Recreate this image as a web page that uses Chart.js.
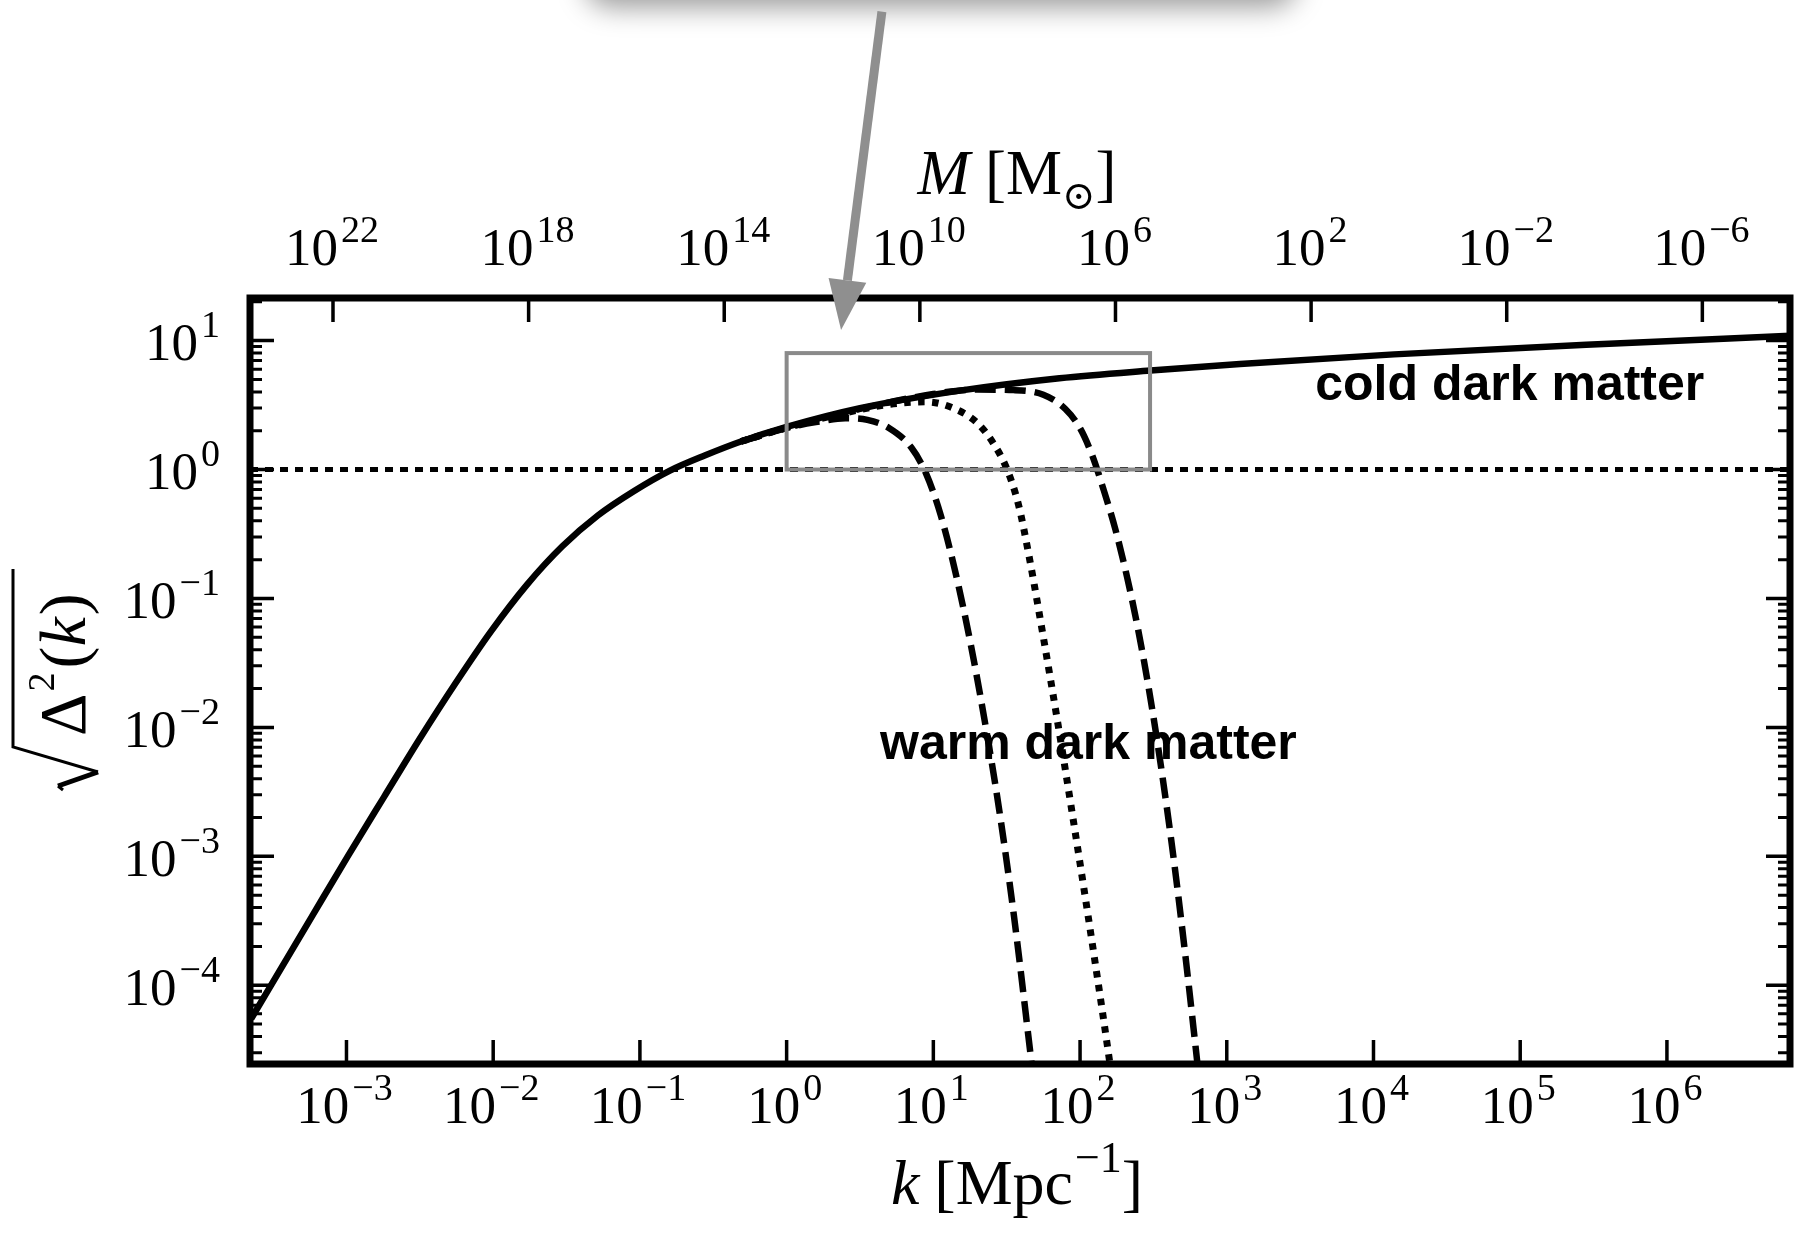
<!DOCTYPE html>
<html>
<head>
<meta charset="utf-8">
<script src="https://cdn.jsdelivr.net/npm/chart.js@4.4.1/dist/chart.umd.min.js"></script>
<style>
  html, body { margin: 0; padding: 0; background: #fff; }
  #wrap { width: 1807px; height: 1233px; position: relative; }
</style>
</head>
<body>
<div id="wrap"><canvas id="spectrumChart"></canvas></div>
<script>
// sqrt(Delta^2(k)) against wavenumber k [Mpc^-1]
const cdmK = [2.24e-4, 5.86e-4, 1.02e-3, 1.80e-3, 3.15e-3, 5.52e-3, 9.66e-3, 1.69e-2, 2.96e-2, 5.19e-2,
              9.08e-2, 0.159, 0.279, 0.488, 1.0, 3.16, 15.1, 72.4, 302, 1230, 13800, 282000, 7.08e6];
const cdmDelta = [5.50e-5, 3.47e-4, 1.00e-3, 2.88e-3, 8.13e-3, 2.19e-2, 5.56e-2, 0.127, 0.254, 0.442,
                  0.679, 0.977, 1.29, 1.65, 2.14, 2.99, 4.09, 5.11, 5.86, 6.58, 7.82, 9.29, 10.9];

// warm dark matter cut-offs (lightest, middle, heaviest)
const wdmAK = [0.488, 1.0, 1.58, 2.51, 3.55, 5.01, 7.08, 8.91, 11.2, 14.1, 17.8, 22.4, 28.2, 35.5, 46.8];
const wdmADelta = [1.65, 2.10, 2.33, 2.50, 2.43, 2.09, 1.48, 0.933, 0.447, 0.162, 4.68e-2, 1.12e-2, 2.24e-3, 3.39e-4, 2.45e-5];

const wdmBK = [0.488, 1.0, 2.51, 5.01, 8.91, 14.1, 20.0, 25.1, 31.6, 38.0, 44.7, 56.2, 70.8, 89.1, 112, 141, 160];
const wdmBDelta = [1.65, 2.11, 2.75, 3.20, 3.35, 2.95, 2.29, 1.66, 1.02, 0.537, 0.219, 5.01e-2, 1.05e-2, 2.04e-3, 3.80e-4, 6.61e-5, 2.45e-5];

const wdmCK = [0.488, 1.0, 3.16, 10.0, 20.0, 35.2, 56.2, 79.4, 100, 120, 145, 174, 209, 251, 302, 363, 437, 525, 631];
const wdmCDelta = [1.65, 2.11, 2.95, 3.85, 4.17, 4.13, 3.80, 2.95, 2.09, 1.32, 0.692, 0.344, 0.147, 5.44e-2, 1.67e-2, 4.29e-3, 9.12e-4, 1.61e-4, 2.47e-5];

// sqrt(Delta^2) = 1 reference level
const unityK = [2.2e-4, 6.9e6];
const unityDelta = [1, 1];

const kRange = [2.2e-4, 6.9e6];
const deltaRange = [2.45e-5, 21.4];
const massAtUnitK = 5.3e12; // M = massAtUnitK * k^-3

const kTicks = [1e-3, 1e-2, 1e-1, 1e0, 1e1, 1e2, 1e3, 1e4, 1e5, 1e6];
const deltaTicks = [1e-4, 1e-3, 1e-2, 1e-1, 1e0, 1e1];
const massTicks = [1e22, 1e18, 1e14, 1e10, 1e6, 1e2, 1e-2, 1e-6];

// highlighted region and pointer
const zoomBoxK = [1, 300];
const zoomBoxDelta = [1, 8];
const arrowK = [4.46, 2.35];
const arrowDelta = [3560, 12.1];

const labelText = ["cold dark matter", "warm dark matter"];
const labelK = [84900, 114];
const labelDelta = [3.45, 5.66e-3];

const SERIF = '"Liberation Serif", "DejaVu Serif", serif';
const SANS = '"Liberation Sans", Arial, sans-serif';

function points(ks, ds) {
    return ks.map((k, i) => ({x: k, y: ds[i]}));
}

// "10" with a raised exponent
function drawPower(ctx, value, x, y, align) {
    const exp = Math.round(Math.log10(value));
    const sup = exp < 0 ? "\u2212" + (-exp) : String(exp);
    ctx.font = "53px " + SERIF;
    const wb = ctx.measureText("10").width;
    ctx.font = "38px " + SERIF;
    const we = ctx.measureText(sup).width;
    const gap = 3;
    const total = wb + gap + we;
    const x0 = align === "right" ? x - total : x - total / 2;
    ctx.textAlign = "left";
    ctx.textBaseline = "alphabetic";
    ctx.font = "53px " + SERIF;
    ctx.fillText("10", x0, y);
    ctx.font = "38px " + SERIF;
    ctx.fillText(sup, x0 + wb + gap, y - 23);
}

// a run of text pieces, centred on cx
function drawPieces(ctx, pieces, cx, y) {
    let total = 0;
    pieces.forEach(p => {
        ctx.font = p.font;
        p.w = ctx.measureText(p.t).width + (p.pad || 0);
        total += p.w;
    });
    let x = cx - total / 2;
    ctx.textAlign = "left";
    ctx.textBaseline = "alphabetic";
    pieces.forEach(p => {
        ctx.font = p.font;
        ctx.fillText(p.t, x, y + (p.dy || 0));
        x += p.w;
    });
}

const decorations = {
    id: "decorations",
    beforeDraw(chart) {
        const ctx = chart.ctx;
        ctx.save();
        ctx.fillStyle = "#fff";
        ctx.fillRect(0, 0, chart.width, chart.height);
        // card edge peeking in at the top
        ctx.shadowColor = "rgba(0,0,0,0.40)";
        ctx.shadowBlur = 28;
        ctx.shadowOffsetY = 7;
        ctx.beginPath();
        ctx.roundRect(585, -140, 712, 140, 26);
        ctx.fill();
        ctx.restore();
    },
    afterDatasetsDraw(chart) {
        const ctx = chart.ctx;
        const {x, y, x2} = chart.scales;
        const area = chart.chartArea;
        ctx.save();

        // grey box around the cut-off region
        const bx0 = x.getPixelForValue(zoomBoxK[0]);
        const bx1 = x.getPixelForValue(zoomBoxK[1]);
        const by0 = y.getPixelForValue(zoomBoxDelta[1]);
        const by1 = y.getPixelForValue(zoomBoxDelta[0]);
        ctx.strokeStyle = "#8a8a8a";
        ctx.lineWidth = 4;
        ctx.strokeRect(bx0, by0, bx1 - bx0, by1 - by0);

        // in-plot labels
        ctx.fillStyle = "#000";
        ctx.font = "bold 50px " + SANS;
        ctx.textAlign = "center";
        ctx.textBaseline = "alphabetic";
        labelText.forEach((t, i) => {
            ctx.fillText(t, x.getPixelForValue(labelK[i]), y.getPixelForValue(labelDelta[i]));
        });

        // ticks, all pointing inwards
        ctx.strokeStyle = "#000";
        ctx.lineCap = "butt";
        const major = 24, minor = 12;
        ctx.lineWidth = 3.5;
        ctx.beginPath();
        kTicks.forEach(v => {
            const px = x.getPixelForValue(v);
            ctx.moveTo(px, area.bottom);
            ctx.lineTo(px, area.bottom - major);
        });
        massTicks.forEach(v => {
            const px = x2.getPixelForValue(v);
            ctx.moveTo(px, area.top);
            ctx.lineTo(px, area.top + major);
        });
        deltaTicks.forEach(v => {
            const py = y.getPixelForValue(v);
            ctx.moveTo(area.left, py);
            ctx.lineTo(area.left + major, py);
            ctx.moveTo(area.right, py);
            ctx.lineTo(area.right - major, py);
        });
        ctx.stroke();
        ctx.lineWidth = 3;
        ctx.beginPath();
        for (let d = -5; d <= 1; d++) {
            for (let m = 2; m <= 9; m++) {
                const v = m * Math.pow(10, d);
                if (v <= deltaRange[0] || v >= deltaRange[1]) continue;
                const py = y.getPixelForValue(v);
                ctx.moveTo(area.left, py);
                ctx.lineTo(area.left + minor, py);
                ctx.moveTo(area.right, py);
                ctx.lineTo(area.right - minor, py);
            }
        }
        ctx.stroke();

        // frame
        ctx.lineWidth = 7;
        ctx.strokeRect(area.left, area.top, area.right - area.left, area.bottom - area.top);

        // tick labels
        ctx.fillStyle = "#000";
        deltaTicks.forEach(v => drawPower(ctx, v, area.left - 30, y.getPixelForValue(v) + 19.5, "right"));
        kTicks.forEach(v => drawPower(ctx, v, x.getPixelForValue(v) - 2, area.bottom + 59, "center"));
        massTicks.forEach(v => drawPower(ctx, v, x2.getPixelForValue(v) - 1, area.top - 33, "center"));

        // axis titles
        const cx = (area.left + area.right) / 2 - 3;
        drawPieces(ctx, [
            {t: "k", font: "italic 64px " + SERIF, pad: 15},
            {t: "[", font: "64px " + SERIF},
            {t: "Mpc", font: "64px " + SERIF, pad: 2},
            {t: "\u22121", font: "44px " + SERIF, dy: -32},
            {t: "]", font: "64px " + SERIF}
        ], cx, area.bottom + 140);
        drawPieces(ctx, [
            {t: "M", font: "italic 63px " + SERIF, pad: 15},
            {t: "[", font: "63px " + SERIF},
            {t: "M", font: "63px " + SERIF},
            {t: "\u2299", font: "40px " + SERIF, dy: 15},
            {t: "]", font: "63px " + SERIF}
        ], cx, area.top - 104);

        // rotated sqrt(Delta^2(k)); local (u, v) = (-screenY, screenX)
        ctx.save();
        ctx.rotate(-Math.PI / 2);
        const mid = (area.top + area.bottom) / 2;
        const base = area.left - 165;
        let u = -(mid + 55);
        ctx.textAlign = "left";
        ctx.font = "66px " + SERIF;
        ctx.fillText("\u0394", u, base);
        u += ctx.measureText("\u0394").width + 2;
        ctx.font = "38px " + SERIF;
        ctx.fillText("2", u, base - 31);
        u += ctx.measureText("2").width + 4;
        ctx.font = "66px " + SERIF;
        ctx.fillText("(", u, base);
        u += ctx.measureText("(").width;
        ctx.font = "italic 66px " + SERIF;
        ctx.fillText("k", u, base);
        u += ctx.measureText("k").width + 2;
        ctx.font = "66px " + SERIF;
        ctx.fillText(")", u, base);
        const rv = area.left - 237;
        ctx.lineWidth = 3;
        ctx.beginPath();
        ctx.moveTo(-(mid - 112), rv);
        ctx.lineTo(-(mid + 66), rv);
        ctx.lineTo(-(mid + 91), rv + 85);
        ctx.stroke();
        ctx.lineWidth = 5;
        ctx.beginPath();
        ctx.moveTo(-(mid + 91), rv + 85);
        ctx.lineTo(-(mid + 105), rv + 45);
        ctx.stroke();
        ctx.lineWidth = 3;
        ctx.beginPath();
        ctx.moveTo(-(mid + 105), rv + 45);
        ctx.lineTo(-(mid + 109), rv + 50);
        ctx.stroke();
        ctx.restore();

        // grey pointer arrow
        const ax0 = x.getPixelForValue(arrowK[0]), ay0 = y.getPixelForValue(arrowDelta[0]);
        const ax1 = x.getPixelForValue(arrowK[1]), ay1 = y.getPixelForValue(arrowDelta[1]);
        const len = Math.hypot(ax1 - ax0, ay1 - ay0);
        const ux = (ax1 - ax0) / len, uy = (ay1 - ay0) / len;
        const headLen = 50, headHalf = 19;
        const hx = ax1 - ux * headLen, hy = ay1 - uy * headLen;
        ctx.strokeStyle = "#8f8f8f";
        ctx.fillStyle = "#8f8f8f";
        ctx.lineWidth = 9;
        ctx.beginPath();
        ctx.moveTo(ax0, ay0);
        ctx.lineTo(hx, hy);
        ctx.stroke();
        ctx.beginPath();
        ctx.moveTo(ax1, ay1);
        ctx.lineTo(hx - uy * headHalf, hy + ux * headHalf);
        ctx.lineTo(hx + uy * headHalf, hy - ux * headHalf);
        ctx.closePath();
        ctx.fill();

        ctx.restore();
    }
};

const lineStyle = {
    borderColor: "#000",
    pointRadius: 0,
    fill: false,
    cubicInterpolationMode: "monotone",
    borderCapStyle: "butt"
};

new Chart(document.getElementById("spectrumChart"), {
    type: "line",
    data: {
        datasets: [
            {...lineStyle, label: "CDM", data: points(cdmK, cdmDelta), borderWidth: 6.5},
            {...lineStyle, label: "WDM A", data: points(wdmAK, wdmADelta), borderWidth: 6.5, borderDash: [21, 9]},
            {...lineStyle, label: "WDM B", data: points(wdmBK, wdmBDelta), borderWidth: 7, borderDash: [6.5, 7.5]},
            {...lineStyle, label: "WDM C", data: points(wdmCK, wdmCDelta), borderWidth: 6.5, borderDash: [21, 9]},
            {...lineStyle, label: "unity", data: points(unityK, unityDelta), borderWidth: 5, borderDash: [8, 7],
             cubicInterpolationMode: "default", tension: 0}
        ]
    },
    options: {
        responsive: true,
        maintainAspectRatio: false,
        animation: false,
        layout: {padding: {left: 250, top: 298, right: 17, bottom: 169}},
        plugins: {legend: {display: false}, tooltip: {enabled: false}},
        scales: {
            x: {type: "logarithmic", min: kRange[0], max: kRange[1], display: false},
            y: {type: "logarithmic", min: deltaRange[0], max: deltaRange[1], display: false},
            x2: {
                type: "logarithmic", axis: "x", position: "top", reverse: true, display: false,
                min: massAtUnitK * Math.pow(kRange[1], -3),
                max: massAtUnitK * Math.pow(kRange[0], -3)
            }
        }
    },
    plugins: [decorations]
});
</script>
</body>
</html>
